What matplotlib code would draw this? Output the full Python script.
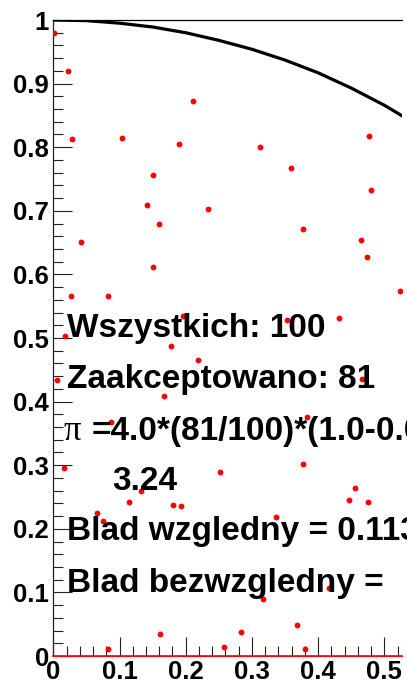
import numpy as np
import matplotlib
matplotlib.use("Agg")
import matplotlib.pyplot as plt
from matplotlib.ticker import MultipleLocator, FixedLocator

# losowane punkty (x, y)
xs = [0.001, 0.022, 0.028, 0.104, 0.211, 0.190, 0.151, 0.142, 0.160, 0.234,
      0.312, 0.359, 0.477, 0.480, 0.377, 0.042, 0.151, 0.027, 0.083, 0.196,
      0.018, 0.178, 0.219, 0.006, 0.167, 0.087, 0.465, 0.474, 0.524, 0.353,
      0.432, 0.466, 0.383, 0.016, 0.132, 0.114, 0.066, 0.075, 0.181, 0.193,
      0.161, 0.083, 0.252, 0.377, 0.456, 0.447, 0.475, 0.336, 0.317, 0.416,
      0.284, 0.368, 0.258, 0.380]
ys = [0.980, 0.920, 0.813, 0.814, 0.873, 0.805, 0.756, 0.709, 0.679, 0.703,
      0.800, 0.767, 0.818, 0.733, 0.671, 0.651, 0.612, 0.566, 0.566, 0.535,
      0.503, 0.487, 0.465, 0.434, 0.409, 0.368, 0.654, 0.627, 0.574, 0.528,
      0.531, 0.436, 0.376, 0.296, 0.259, 0.242, 0.225, 0.212, 0.237, 0.236,
      0.035, 0.011, 0.289, 0.302, 0.264, 0.245, 0.242, 0.219, 0.090, 0.107,
      0.038, 0.049, 0.014, 0.011]

# krzywa (cwiartka okregu)
curve_x = [0.0, 0.05, 0.10, 0.15, 0.20, 0.25, 0.30, 0.35, 0.40, 0.45, 0.50, 0.55]
curve_y = [1.0, 0.999, 0.995, 0.989, 0.980, 0.968, 0.954, 0.937, 0.917, 0.893, 0.866, 0.835]

y_ticks = [0, 0.1, 0.2, 0.3, 0.4, 0.5, 0.6, 0.7, 0.8, 0.9, 1.0]
y_labels = ["0", "0.1", "0.2", "0.3", "0.4", "0.5", "0.6", "0.7", "0.8", "0.9", "1"]
x_ticks = [0, 0.1, 0.2, 0.3, 0.4, 0.5]
x_labels = ["0", "0.1", "0.2", "0.3", "0.4", "0.5"]

W, H = 407, 685
fig = plt.figure(figsize=(W / 100, H / 100), dpi=100)
ax = fig.add_axes([53.3 / W, 29 / H, (402 - 53.3) / W, 636 / H])

ax.plot(xs, ys, "o", color="red", markersize=4.2, markeredgewidth=0, zorder=3)
ax.plot(curve_x, curve_y, color="black", linewidth=2.3, zorder=4, clip_on=True)
ax.axhline(0, color="red", linewidth=1.2, zorder=5, clip_on=False)

ax.set_xlim(0, (402 - 53.3) / 662)
ax.set_ylim(0, 1)

ax.spines["right"].set_visible(False)
ax.spines["top"].set_linewidth(0.9)
ax.spines["left"].set_color("#222222")
ax.spines["left"].set_linewidth(0.9)
ax.spines["bottom"].set_color("red")

ax.yaxis.set_major_locator(FixedLocator(y_ticks))
ax.set_yticklabels(y_labels)
ax.xaxis.set_major_locator(FixedLocator(x_ticks))
ax.set_xticklabels(x_labels)
ax.xaxis.set_minor_locator(MultipleLocator(0.02))
ax.yaxis.set_minor_locator(MultipleLocator(0.02))

ax.tick_params(which="major", direction="in", length=13.7, width=0.8, color="#222222",
               labelsize=18.5, pad=3)
ax.tick_params(which="minor", direction="in", length=7, width=0.8, color="#222222")
for lab in ax.get_xticklabels() + ax.get_yticklabels():
    lab.set_fontfamily("Liberation Sans")
    lab.set_fontweight("bold")

font = dict(family="Liberation Sans", fontweight="bold", fontsize=24, va="baseline")


def put(x, y, s, **kw):
    opts = dict(font)
    opts.update(kw)
    fig.text(x / W, 1 - y / H, s, zorder=10, **opts)


put(67, 337, "Wszystkich: 100")
put(67, 388, "Zaakceptowano: 81")
put(64, 440, "\u03c0", family="Liberation Serif", fontweight="normal", fontsize=25)
put(92, 440, "=4.0*(81/100)*(1.0-0.0)")
put(112, 490, "3.24")
put(67, 540, "Blad wzgledny = 0.1134")
put(67, 592, "Blad bezwzgledny =")

fig.savefig("out.png", dpi=100)
